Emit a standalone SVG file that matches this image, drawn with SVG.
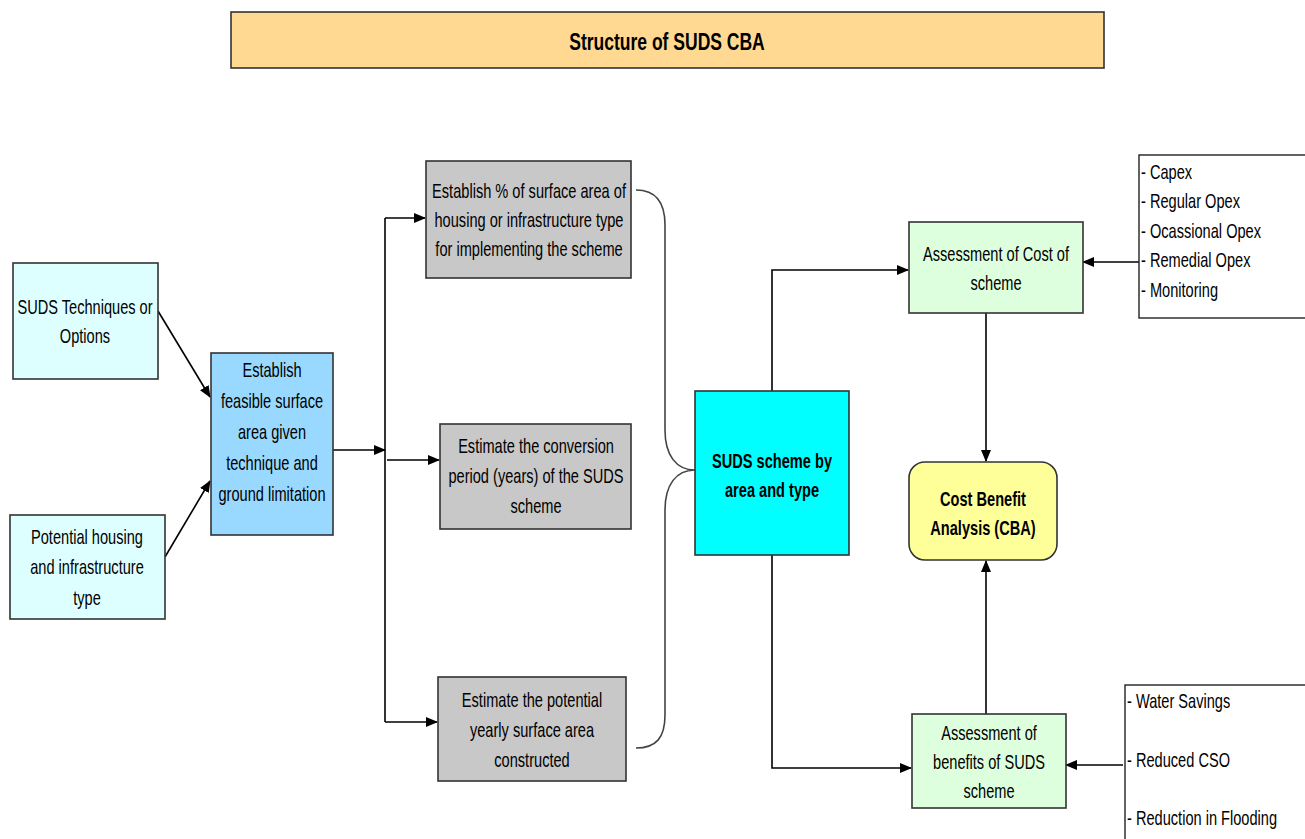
<svg xmlns="http://www.w3.org/2000/svg" width="1305" height="839" viewBox="0 0 1305 839">
<defs>
<marker id="ah" markerWidth="12" markerHeight="10" refX="11" refY="5" orient="auto" markerUnits="userSpaceOnUse">
<path d="M0,0 L12,5 L0,10 Z" fill="#000"/>
</marker>
<style>
.box{stroke:#333;stroke-width:1.6}
.t{font-family:"Liberation Sans",Arial,sans-serif;font-size:20px;fill:#000;text-anchor:middle}
.b{font-weight:bold}
.l{text-anchor:start}
.c{fill:none;stroke:#000;stroke-width:1.6}
.br{fill:none;stroke:#444;stroke-width:1.6}
</style>
</defs>
<rect width="1305" height="839" fill="#fff"/>

<g id="title">
<rect class="box" x="231" y="12" width="873" height="56" fill="#FFD991"/>
<text class="t b" style="font-size:24px" transform="translate(667,50) scale(0.73,1)">Structure of SUDS CBA</text>
</g>

<g id="connectors">
<path class="c" d="M158,311 L210,397" marker-end="url(#ah)"/>
<path class="c" d="M165,557 L210,481" marker-end="url(#ah)"/>
<path class="c" d="M333,450 L385,450" marker-end="url(#ah)"/>
<path class="c" d="M385,218 V722" stroke="#444"/>
<path class="c" d="M385,218 H425" marker-end="url(#ah)"/>
<path class="c" d="M387,460 H439" marker-end="url(#ah)"/>
<path class="c" d="M385,722 H437" marker-end="url(#ah)"/>
<path class="br" d="M636,190 C656,190 665,202 665,225 L665,430 C665,455 676,470 695,470 C676,470 665,485 665,510 L665,715 C665,738 656,748 636,748"/>
<path class="c" d="M772,391 V270 H908" marker-end="url(#ah)"/>
<path class="c" d="M772,555 V768 H911" marker-end="url(#ah)"/>
<path class="c" d="M1139,262 H1083" marker-end="url(#ah)"/>
<path class="c" d="M986,313 V461" marker-end="url(#ah)"/>
<path class="c" d="M986,714 V561" marker-end="url(#ah)"/>
<path class="c" d="M1123,765 H1066" marker-end="url(#ah)"/>
</g>

<g id="suds-techniques">
<rect class="box" x="13" y="263" width="145" height="116" fill="#DDFFFF"/>
<text class="t" transform="translate(85,314) scale(0.73,1)"><tspan x="0">SUDS Techniques or</tspan><tspan x="0" dy="29">Options</tspan></text>
</g>

<g id="potential-housing">
<rect class="box" x="10" y="515" width="155" height="104" fill="#DDFFFF"/>
<text class="t" transform="translate(87,544) scale(0.73,1)"><tspan x="0">Potential housing</tspan><tspan x="0" dy="30">and infrastructure</tspan><tspan x="0" dy="31">type</tspan></text>
</g>

<g id="establish-feasible">
<rect class="box" x="211" y="353" width="122" height="182" fill="#99D9FF"/>
<text class="t" transform="translate(272,377) scale(0.73,1)"><tspan x="0">Establish</tspan><tspan x="0" dy="31">feasible surface</tspan><tspan x="0" dy="31">area given</tspan><tspan x="0" dy="31">technique and</tspan><tspan x="0" dy="31">ground limitation</tspan></text>
</g>

<g id="establish-percent">
<rect class="box" x="426" y="161" width="205" height="117" fill="#C8C8C8"/>
<text class="t" transform="translate(529,198) scale(0.73,1)"><tspan x="0">Establish % of surface area of</tspan><tspan x="0" dy="29">housing or infrastructure type</tspan><tspan x="0" dy="29">for implementing the scheme</tspan></text>
</g>

<g id="conversion-period">
<rect class="box" x="440" y="424" width="191" height="105" fill="#C8C8C8"/>
<text class="t" transform="translate(536,453) scale(0.73,1)"><tspan x="0">Estimate the conversion</tspan><tspan x="0" dy="30">period (years) of the SUDS</tspan><tspan x="0" dy="30">scheme</tspan></text>
</g>

<g id="yearly-area">
<rect class="box" x="438" y="677" width="188" height="104" fill="#C8C8C8"/>
<text class="t" transform="translate(532,707) scale(0.73,1)"><tspan x="0">Estimate the potential</tspan><tspan x="0" dy="30">yearly surface area</tspan><tspan x="0" dy="30">constructed</tspan></text>
</g>

<g id="suds-scheme">
<rect class="box" x="695" y="391" width="154" height="164" fill="#00FFFF"/>
<text class="t b" transform="translate(772,468) scale(0.73,1)"><tspan x="0">SUDS scheme by</tspan><tspan x="0" dy="29">area and type</tspan></text>
</g>

<g id="cost-assessment">
<rect class="box" x="909" y="222" width="174" height="91" fill="#DDFFDD"/>
<text class="t" transform="translate(996,261) scale(0.73,1)"><tspan x="0">Assessment of Cost of</tspan><tspan x="0" dy="29">scheme</tspan></text>
</g>

<g id="cost-items">
<rect x="1139" y="155" width="175" height="163" fill="#fff" stroke="#222" stroke-width="1.4"/>
<text class="t l" transform="translate(1141,179) scale(0.73,1)"><tspan x="0">- Capex</tspan><tspan x="0" dy="29.5">- Regular Opex</tspan><tspan x="0" dy="29.5">- Ocassional Opex</tspan><tspan x="0" dy="29.5">- Remedial Opex</tspan><tspan x="0" dy="29.5">- Monitoring</tspan></text>
</g>

<g id="cba">
<rect class="box" x="909" y="462" width="148" height="98" rx="16" ry="16" fill="#FFFF99"/>
<text class="t b" transform="translate(983,506) scale(0.73,1)"><tspan x="0">Cost Benefit</tspan><tspan x="0" dy="29">Analysis (CBA)</tspan></text>
</g>

<g id="benefits-assessment">
<rect class="box" x="912" y="714" width="154" height="94" fill="#DDFFDD"/>
<text class="t" transform="translate(989,740) scale(0.73,1)"><tspan x="0">Assessment of</tspan><tspan x="0" dy="29">benefits of SUDS</tspan><tspan x="0" dy="29">scheme</tspan></text>
</g>

<g id="benefit-items">
<rect x="1125" y="685" width="190" height="170" fill="#fff" stroke="#222" stroke-width="1.4"/>
<text class="t l" transform="translate(1127,708) scale(0.73,1)"><tspan x="0">- Water Savings</tspan><tspan x="0" dy="59">- Reduced CSO</tspan><tspan x="0" dy="58">- Reduction in Flooding</tspan></text>
</g>
</svg>
